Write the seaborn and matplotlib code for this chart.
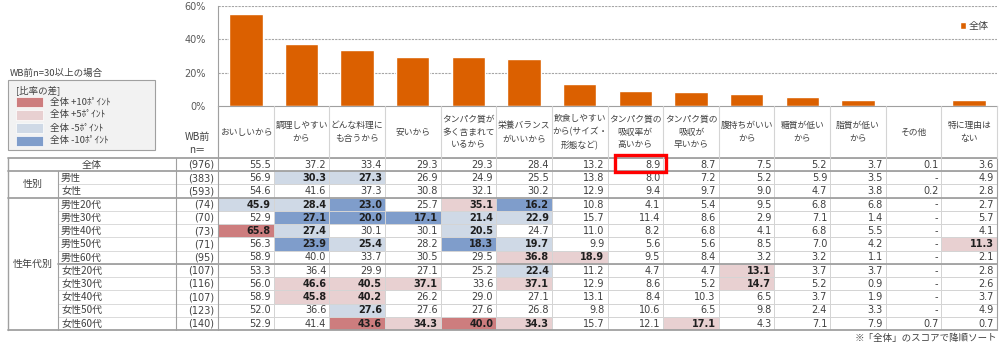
import numpy as np
import matplotlib
matplotlib.use("Agg")
import matplotlib.pyplot as plt
from matplotlib.colors import ListedColormap
from matplotlib.patches import Rectangle
import seaborn as sns

# ---- data -------------------------------------------------------------
reasons = [
    "おいしいから", "調理しやすい\nから", "どんな料理に\nも合うから", "安いから",
    "タンパク質が\n多く含まれて\nいるから", "栄養バランス\nがいいから",
    "飲食しやすい\nから(サイズ・\n形態など)", "タンパク質の\n吸収率が\n高いから",
    "タンパク質の\n吸収が\n早いから", "腹持ちがいい\nから", "糖質が低い\nから",
    "脂質が低い\nから", "その他", "特に理由は\nない",
]

row_labels = ["全体", "男性", "女性",
              "男性20代", "男性30代", "男性40代", "男性50代", "男性60代",
              "女性20代", "女性30代", "女性40代", "女性50代", "女性60代"]
sample_sizes = [976, 383, 593, 74, 70, 73, 71, 95, 107, 116, 107, 123, 140]

NA = np.nan
overall = [55.5, 37.2, 33.4, 29.3, 29.3, 28.4, 13.2, 8.9, 8.7, 7.5, 5.2, 3.7, 0.1, 3.6]
male = [56.9, 30.3, 27.3, 26.9, 24.9, 25.5, 13.8, 8.0, 7.2, 5.2, 5.9, 3.5, NA, 4.9]
female = [54.6, 41.6, 37.3, 30.8, 32.1, 30.2, 12.9, 9.4, 9.7, 9.0, 4.7, 3.8, 0.2, 2.8]
male_20s = [45.9, 28.4, 23.0, 25.7, 35.1, 16.2, 10.8, 4.1, 5.4, 9.5, 6.8, 6.8, NA, 2.7]
male_30s = [52.9, 27.1, 20.0, 17.1, 21.4, 22.9, 15.7, 11.4, 8.6, 2.9, 7.1, 1.4, NA, 5.7]
male_40s = [65.8, 27.4, 30.1, 30.1, 20.5, 24.7, 11.0, 8.2, 6.8, 4.1, 6.8, 5.5, NA, 4.1]
male_50s = [56.3, 23.9, 25.4, 28.2, 18.3, 19.7, 9.9, 5.6, 5.6, 8.5, 7.0, 4.2, NA, 11.3]
male_60s = [58.9, 40.0, 33.7, 30.5, 29.5, 36.8, 18.9, 9.5, 8.4, 3.2, 3.2, 1.1, NA, 2.1]
female_20s = [53.3, 36.4, 29.9, 27.1, 25.2, 22.4, 11.2, 4.7, 4.7, 13.1, 3.7, 3.7, NA, 2.8]
female_30s = [56.0, 46.6, 40.5, 37.1, 33.6, 37.1, 12.9, 8.6, 5.2, 14.7, 5.2, 0.9, NA, 2.6]
female_40s = [58.9, 45.8, 40.2, 26.2, 29.0, 27.1, 13.1, 8.4, 10.3, 6.5, 3.7, 1.9, NA, 3.7]
female_50s = [52.0, 36.6, 27.6, 27.6, 27.6, 26.8, 9.8, 10.6, 6.5, 9.8, 2.4, 3.3, NA, 4.9]
female_60s = [52.9, 41.4, 43.6, 34.3, 40.0, 34.3, 15.7, 12.1, 17.1, 4.3, 7.1, 7.9, 0.7, 0.7]

key_labels = ["全体 +10ﾎﾟｲﾝﾄ", "全体 +5ﾎﾟｲﾝﾄ", "全体 -5ﾎﾟｲﾝﾄ", "全体 -10ﾎﾟｲﾝﾄ"]
highlight_col = 7  # 全体 score outlined in red

# ---- style ------------------------------------------------------------
ORANGE = "#DB6000"
DARK_RED = "#CD7D7E"
LIGHT_RED = "#E8D0D1"
LIGHT_BLUE = "#CFD9E6"
DARK_BLUE = "#7F9DCB"
GRID = "#A6A6A6"
LINE_LIGHT = "#D4D4D4"
LINE_DARK = "#A0A0A0"
TEXT = "#404040"
NUM_FONT = ["DejaVu Sans"]

sns.set_theme(style="white")
plt.rcParams["font.family"] = ["Noto Sans CJK JP", "DejaVu Sans"]

W_PX, H_PX = 1000, 344
fig = plt.figure(figsize=(W_PX / 100, H_PX / 100), dpi=100)

# layout in pixels
T_LEFT, T_RIGHT = 218, 997
BAR_TOP, BAR_BOTTOM = 6, 106
TAB_TOP, TAB_BOTTOM = 158, 330
OUT_LEFT, GROUP_X, N_LEFT = 8, 58, 176

def fx(px):
    return px / W_PX

def fy(py):
    return 1 - py / H_PX

# ---- bar chart --------------------------------------------------------
ax_bar = fig.add_axes([fx(T_LEFT), fy(BAR_BOTTOM), fx(T_RIGHT - T_LEFT),
                       (BAR_BOTTOM - BAR_TOP) / H_PX])
sns.barplot(x=reasons, y=overall, color=ORANGE, saturation=1, width=0.6,
            ax=ax_bar, label="全体")
ax_bar.set_xlim(-0.5, len(reasons) - 0.5)
ax_bar.set_ylim(0, 60)
ax_bar.set_yticks([0, 20, 40, 60])
ax_bar.set_yticklabels([f"{v}%" for v in [0, 20, 40, 60]], fontsize=7,
                       color="#595959", family=NUM_FONT)
ax_bar.tick_params(axis="y", length=0, pad=9)
ax_bar.set_xticks([])
ax_bar.set_xlabel("")
ax_bar.set_ylabel("")
for v in [20, 40, 60]:
    ax_bar.axhline(v, color=GRID, lw=0.8, ls=(0, (2, 1)), zorder=0)
for side in ["top", "right"]:
    ax_bar.spines[side].set_visible(False)
for side in ["left", "bottom"]:
    ax_bar.spines[side].set_color(LINE_DARK)
    ax_bar.spines[side].set_linewidth(0.8)
leg = ax_bar.legend(loc="upper right", bbox_to_anchor=(0.995, 0.89), frameon=False,
                    fontsize=7.2, handlelength=0.6, handleheight=0.6, handletextpad=0.3,
                    borderaxespad=0)
for t in leg.get_texts():
    t.set_color(TEXT)

# ---- table ------------------------------------------------------------
scores = np.array([overall, male, female, male_20s, male_30s, male_40s, male_50s,
                   male_60s, female_20s, female_30s, female_40s, female_50s, female_60s])
diff = np.round(scores - scores[0], 1)
levels = np.zeros_like(scores)
levels[diff >= 5] = 1
levels[diff >= 10] = 2
levels[diff <= -5] = -1
levels[diff <= -10] = -2
levels[np.isnan(scores)] = 0

n_rows, n_cols = scores.shape
ax_tab = fig.add_axes([fx(T_LEFT), fy(TAB_BOTTOM), fx(T_RIGHT - T_LEFT),
                       (TAB_BOTTOM - TAB_TOP) / H_PX])
cmap = ListedColormap([DARK_BLUE, LIGHT_BLUE, "white", LIGHT_RED, DARK_RED])
sns.heatmap(levels, cmap=cmap, vmin=-2.5, vmax=2.5, cbar=False,
            linewidths=0.6, linecolor=LINE_LIGHT,
            xticklabels=False, yticklabels=False, ax=ax_tab)

col_w = (T_RIGHT - T_LEFT) / n_cols
row_h = (TAB_BOTTOM - TAB_TOP) / n_rows

def dx(px):
    return (px - T_LEFT) / col_w

def dy(py):
    return (py - TAB_TOP) / row_h

# cell values
for i in range(n_rows):
    for j in range(n_cols):
        v = scores[i, j]
        txt = "-" if np.isnan(v) else f"{v:.1f}"
        strong = levels[i, j] != 0
        ax_tab.text(j + 1 - 3 / col_w, i + 0.52, txt, ha="right", va="center",
                    fontsize=7, family=NUM_FONT,
                    color="#1F1F1F" if strong else TEXT,
                    fontweight="bold" if strong else "normal")

# column headers
for j, lab in enumerate(reasons):
    ax_tab.text(j + 0.5, dy(132), lab, ha="center", va="center", fontsize=6.3,
                color=TEXT, linespacing=1.55, clip_on=False)
ax_tab.text(dx(197), dy(137), "WB前", ha="center", va="center", fontsize=7.2, color=TEXT)
ax_tab.text(dx(197), dy(150), "n＝", ha="center", va="center", fontsize=7.2, color=TEXT)

# row labels and sample sizes
ax_tab.text(dx((OUT_LEFT + N_LEFT) / 2), 0.52, row_labels[0], ha="center", va="center",
            fontsize=7.2, color=TEXT)
for i in range(1, n_rows):
    ax_tab.text(dx(61), i + 0.52, row_labels[i], ha="left", va="center",
                fontsize=7.2, color=TEXT)
ax_tab.text(dx((OUT_LEFT + GROUP_X) / 2), 2.0, "性別", ha="center", va="center",
            fontsize=7.2, color=TEXT)
ax_tab.text(dx((OUT_LEFT + GROUP_X) / 2), 8.0, "性年代別", ha="center", va="center",
            fontsize=7.2, color=TEXT)
for i, n in enumerate(sample_sizes):
    ax_tab.text(dx(214), i + 0.52, f"({n})", ha="right", va="center",
                fontsize=7, family=NUM_FONT, color=TEXT)

# grid lines of the label area and group separators
kw = dict(clip_on=False, zorder=5)
for i in range(1, n_rows):
    if i in (1, 3):
        continue
    ax_tab.plot([dx(GROUP_X), 0], [i, i], color=LINE_LIGHT, lw=0.6, **kw)
for yy, x0 in [(0, OUT_LEFT), (1, OUT_LEFT), (3, OUT_LEFT), (8, GROUP_X), (n_rows, OUT_LEFT)]:
    ax_tab.plot([dx(x0), n_cols], [yy, yy], color=LINE_DARK, lw=1.3, **kw)
ax_tab.plot([dx(OUT_LEFT)] * 2, [0, n_rows], color=LINE_DARK, lw=1.0, **kw)
ax_tab.plot([dx(GROUP_X)] * 2, [1, n_rows], color=LINE_DARK, lw=0.8, **kw)
ax_tab.plot([dx(N_LEFT)] * 2, [0, n_rows], color=LINE_DARK, lw=0.8, **kw)
ax_tab.plot([n_cols] * 2, [0, n_rows], color=LINE_DARK, lw=0.8, **kw)
for j in range(n_cols + 1):
    ax_tab.plot([j, j], [dy(BAR_BOTTOM), 0], color=LINE_LIGHT, lw=0.8, **kw)
ax_tab.plot([0, 0], [dy(BAR_BOTTOM), n_rows], color=LINE_DARK, lw=0.8, **kw)

# red outline around the highlighted 全体 score
ax_tab.add_patch(Rectangle((highlight_col + 0.14, dy(155)), 0.92, dy(172) - dy(155),
                           fill=False, edgecolor="#FF0000", lw=2.4, clip_on=False, zorder=6))

# ---- colour key -------------------------------------------------------
ax_key = fig.add_axes([0, 0, 1, 1], facecolor="none")
ax_key.set_xlim(0, W_PX)
ax_key.set_ylim(H_PX, 0)
ax_key.axis("off")
ax_key.text(10, 73, "WB前n=30以上の場合", ha="left", va="center", fontsize=6.8, color=TEXT)
ax_key.add_patch(Rectangle((8, 80), 147, 70, facecolor="#F2F2F2", edgecolor=LINE_DARK, lw=0.8))
ax_key.text(16, 90, "[比率の差]", ha="left", va="center", fontsize=6.8, color=TEXT)
for k, (lab, col) in enumerate(zip(key_labels, [DARK_RED, LIGHT_RED, LIGHT_BLUE, DARK_BLUE])):
    yc = 102 + k * 13
    ax_key.add_patch(Rectangle((16, yc - 5), 27, 10, facecolor=col, edgecolor="white", lw=0.5))
    ax_key.text(50, yc, lab, ha="left", va="center", fontsize=6.8, color=TEXT)

fig.text(fx(T_RIGHT), fy(338), "※「全体」のスコアで降順ソート", ha="right", va="center",
         fontsize=6.8, color=TEXT)

fig.savefig("out.png", dpi=100)
